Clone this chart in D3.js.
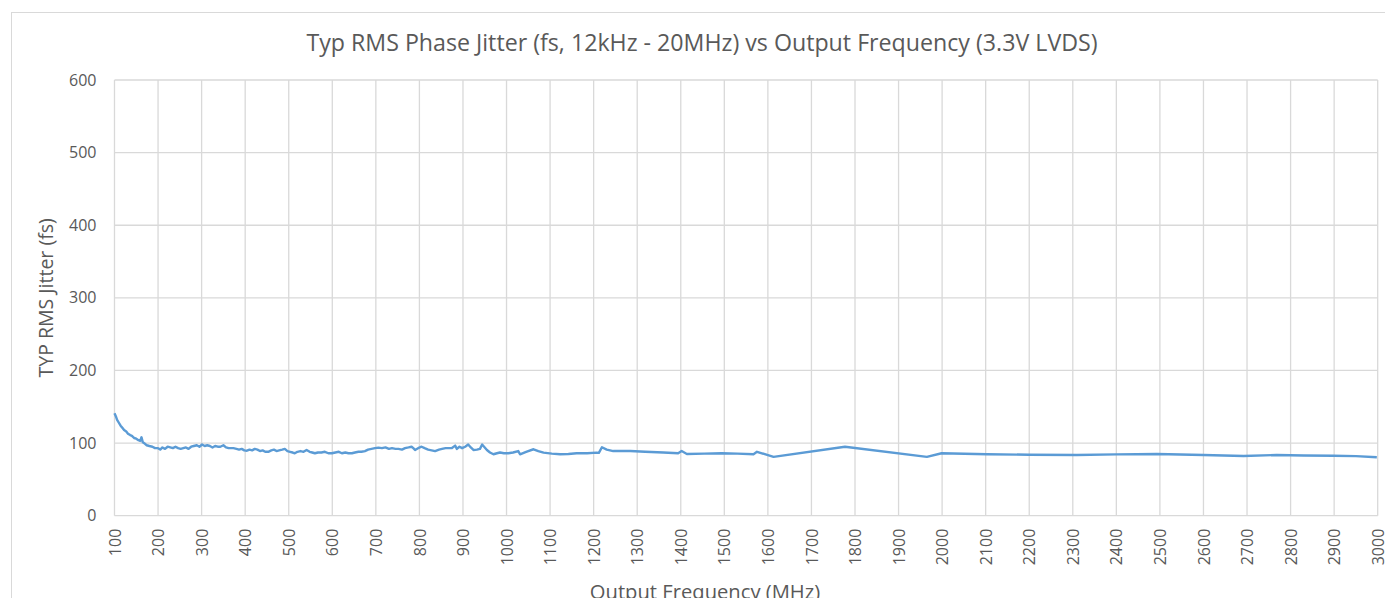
<!DOCTYPE html>
<html>
<head>
<meta charset="utf-8">
<script src="https://cdn.jsdelivr.net/npm/d3@7"></script>
<style>
  html, body { margin: 0; padding: 0; background: #fff; overflow: hidden; }
  svg { display: block; font-family: 'Open Sans', sans-serif; }
</style>
</head>
<body>
<svg id="chart" width="1385" height="598"></svg>
<script>
const titleText = 'Typ RMS Phase Jitter (fs, 12kHz - 20MHz) vs Output Frequency (3.3V LVDS)';
const xTitle = 'Output Frequency (MHz)';
const yTitle = 'TYP RMS Jitter (fs)';

const xTicks = d3.range(100, 3001, 100);
const yTicks = [0, 100, 200, 300, 400, 500, 600];

// output frequency (MHz)
const freqMHz = [
  100, 103, 106, 110, 114, 118, 122, 127, 131, 136, 140, 145, 150, 155, 159, 162, 165, 170, 174, 180,
  187, 193, 200, 205, 210, 216, 222, 228, 234, 240, 246, 252, 258, 264, 270, 276, 282, 289, 295, 301,
  307, 313, 319, 325, 331, 337, 343, 350, 356, 362, 368, 373, 380, 386, 392, 398, 404, 410, 416, 422,
  428, 434, 440, 446, 453, 460, 466, 472, 478, 485, 491, 497, 503, 509, 514, 520, 527, 534, 541, 548,
  554, 560, 567, 575, 583, 591, 599, 607, 615, 622, 630, 637, 645, 652, 660, 667, 675, 682, 690, 698,
  706, 714, 722, 730, 737, 745, 752, 760, 767, 775, 782, 786, 790, 797, 805, 812, 820, 828, 836, 845,
  852, 860, 866, 874, 882, 886, 892, 898, 905, 912, 918, 924, 932, 939, 944, 950, 955, 962, 970, 978,
  985, 994, 1004, 1015, 1027, 1031, 1045, 1062, 1073, 1085, 1104, 1123, 1142, 1161, 1185, 1207, 1212, 1219, 1230, 1245,
  1284, 1318, 1360, 1394, 1402, 1414, 1454, 1494, 1530, 1567, 1575, 1613, 1777, 1965, 1999, 2103, 2200, 2309, 2400, 2493,
  2600, 2692, 2768, 2830, 2898, 2950, 2998,
];

// typ rms jitter (fs)
const jitterFs = [
  141, 137, 132, 128, 124, 121, 118, 116, 113, 111, 110, 107, 106, 104, 103, 108, 101, 99, 97, 96,
  95, 93, 93, 91, 94, 92, 95, 94, 93, 95, 93, 92, 93, 94, 92, 95, 96, 97, 95, 98,
  96, 97, 96, 94, 96, 95, 95, 97, 94, 93, 93, 93, 92, 91, 92, 90, 89.5, 91, 90, 92,
  91, 89, 90, 88, 88, 90, 91, 89, 90, 91, 92, 89, 88, 87, 86, 88, 89, 88, 90.5, 88,
  87, 86, 87, 87, 88, 86, 86, 87, 88, 86, 87, 86, 86, 87, 88, 88, 89, 91, 92, 93,
  93.7, 93, 94, 92, 93, 92, 92, 91, 93, 94, 95, 93, 90.5, 93, 95, 93, 91, 90, 89, 91,
  92, 93, 93, 93, 96.5, 92, 95, 93, 95, 98, 94, 90.5, 91, 92, 98, 94, 90.5, 87, 84.6, 86,
  87, 86, 86, 87, 89, 84.6, 88, 91.5, 89, 86.8, 85.5, 84.6, 85, 86, 86, 86.8, 86.5, 94.2, 91, 89,
  89, 88, 87, 86, 89, 85, 85.5, 86, 85.5, 84.6, 88, 81, 95, 81, 86, 84.6, 84, 83.6, 84.5, 85,
  83.5, 82.2, 83.6, 83, 82.6, 82, 80.4,
];

const series = freqMHz.map((f, i) => ({ x: f, y: jitterFs[i] }));

const width = 1385;
const height = 598;
const margin = { top: 80, right: 7.3, bottom: 82.3, left: 114.5 };
const gray = '#d9d9d9';
const textColor = '#595959';

const svg = d3.select('#chart');

// outer chart frame
svg
  .append('rect')
  .attr('x', 11.5)
  .attr('y', 12.5)
  .attr('width', 1400)
  .attr('height', 700)
  .attr('fill', '#fff')
  .attr('stroke', gray)
  .attr('stroke-width', 1);

const x = d3
  .scaleLinear()
  .domain([100, 3000])
  .range([margin.left, width - margin.right]);
const y = d3
  .scaleLinear()
  .domain([0, 600])
  .range([height - margin.bottom, margin.top]);

// gridlines
const grid = svg.append('g').attr('class', 'grid');
grid
  .selectAll('line.gx')
  .data(xTicks)
  .join('line')
  .attr('class', 'gx')
  .attr('x1', (d) => x(d))
  .attr('x2', (d) => x(d))
  .attr('y1', y(600))
  .attr('y2', y(0))
  .attr('stroke', gray)
  .attr('stroke-width', 1.3);
grid
  .selectAll('line.gy')
  .data(yTicks)
  .join('line')
  .attr('class', 'gy')
  .attr('x1', x(100))
  .attr('x2', x(3000))
  .attr('y1', (d) => y(d))
  .attr('y2', (d) => y(d))
  .attr('stroke', gray)
  .attr('stroke-width', 1.3);

// axes (labels only, lines drawn by grid)
const xAxis = svg
  .append('g')
  .attr('transform', `translate(0,${y(0)})`)
  .call(d3.axisBottom(x).tickValues(xTicks).tickFormat(d3.format('d')).tickSize(0).tickPadding(0));
xAxis.select('.domain').remove();
xAxis
  .selectAll('text')
  .attr('fill', textColor)
  .attr('font-size', 16)
  .attr('font-family', 'Open Sans, sans-serif')
  .attr('text-anchor', 'end')
  .attr('dy', '0.35em')
  .attr('transform', 'translate(0,13) rotate(-90)');

const yAxis = svg
  .append('g')
  .attr('transform', `translate(${x(100)},0)`)
  .call(d3.axisLeft(y).tickValues(yTicks).tickFormat(d3.format('d')).tickSize(0).tickPadding(18));
yAxis.select('.domain').remove();
yAxis
  .selectAll('text')
  .attr('fill', textColor)
  .attr('font-size', 16)
  .attr('font-family', 'Open Sans, sans-serif');

// the data line
const line = d3
  .line()
  .x((d) => x(d.x))
  .y((d) => y(d.y));
svg
  .append('path')
  .datum(series)
  .attr('fill', 'none')
  .attr('stroke', '#5b9bd5')
  .attr('stroke-width', 2.4)
  .attr('stroke-linejoin', 'round')
  .attr('d', line);

// titles
svg
  .append('text')
  .attr('x', 702)
  .attr('y', 51)
  .attr('text-anchor', 'middle')
  .attr('fill', textColor)
  .attr('font-size', 23.2)
  .text(titleText);

svg
  .append('text')
  .attr('transform', `translate(53,${(y(0) + y(600)) / 2}) rotate(-90)`)
  .attr('text-anchor', 'middle')
  .attr('fill', textColor)
  .attr('font-size', 19.5)
  .text(yTitle);

svg
  .append('text')
  .attr('x', 705)
  .attr('y', 599)
  .attr('text-anchor', 'middle')
  .attr('fill', textColor)
  .attr('font-size', 20.2)
  .text(xTitle);
</script>
</body>
</html>
